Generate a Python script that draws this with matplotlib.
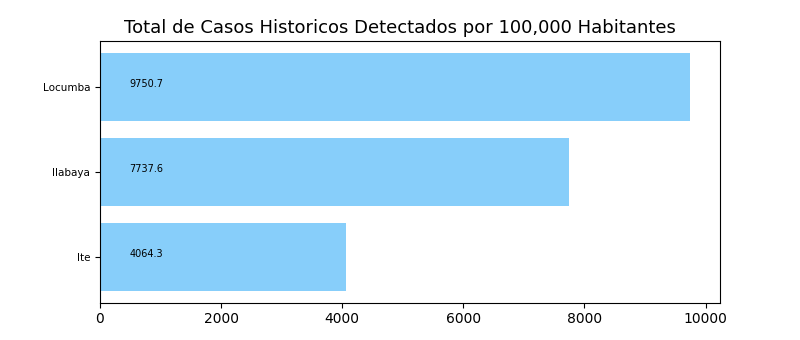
import matplotlib
matplotlib.use("Agg")
import matplotlib.pyplot as plt

# datos
distritos = ["Ite", "Ilabaya", "Locumba"]
casos_100k = [4064.3, 7737.6, 9750.7]

fig, ax = plt.subplots(figsize=(8, 3.4), dpi=100)
ax.barh(distritos, casos_100k, color="lightskyblue")

# etiquetas de valor dentro de las barras
for i, v in enumerate(casos_100k):
    ax.text(480, i, str(v), fontsize=7)

fig.suptitle("Total de Casos Historicos Detectados por 100,000 Habitantes",
             fontsize=13, y=0.918, va="center")
ax.tick_params(axis="y", labelsize=7.5)
plt.savefig("out.png")
